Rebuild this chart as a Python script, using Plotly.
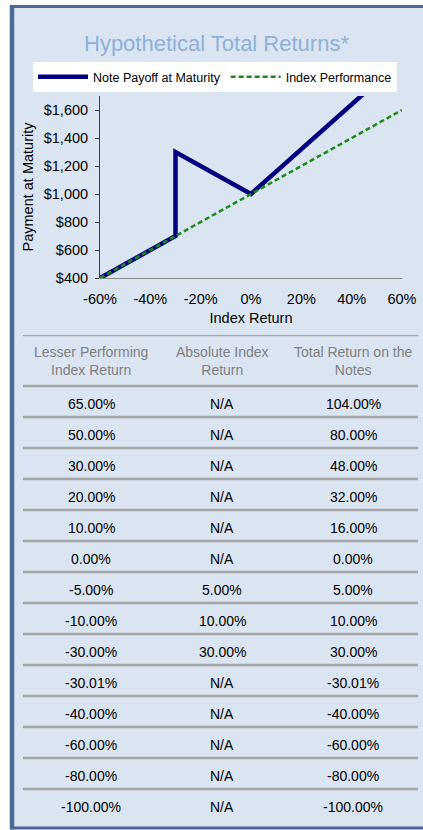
import plotly.graph_objects as go

# ---------------- data ----------------
index_x = [-0.60, 0.60]
index_y = [400, 1600]

note_x = [-0.60, -0.30, -0.30, 0.00, 0.65]
note_y = [400, 700, 1300, 1000, 2040]

x_ticks = [-0.6, -0.4, -0.2, 0.0, 0.2, 0.4, 0.6]
x_tick_labels = ["-60%", "-40%", "-20%", "0%", "20%", "40%", "60%"]
y_ticks = [400, 600, 800, 1000, 1200, 1400, 1600]
y_tick_labels = ["$400", "$600", "$800", "$1,000", "$1,200", "$1,400", "$1,600"]

header_col1 = "Lesser Performing<br>Index Return"
header_col2 = "Absolute Index<br>Return"
header_col3 = "Total Return on the<br>Notes"
headers = [header_col1, header_col2, header_col3]

lesser_return = ["65.00%", "50.00%", "30.00%", "20.00%", "10.00%", "0.00%", "-5.00%",
                 "-10.00%", "-30.00%", "-30.01%", "-40.00%", "-60.00%", "-80.00%", "-100.00%"]
absolute_return = ["N/A", "N/A", "N/A", "N/A", "N/A", "N/A", "5.00%",
                   "10.00%", "30.00%", "N/A", "N/A", "N/A", "N/A", "N/A"]
total_return = ["104.00%", "80.00%", "48.00%", "32.00%", "16.00%", "0.00%", "5.00%",
                "10.00%", "30.00%", "-30.01%", "-40.00%", "-60.00%", "-80.00%", "-100.00%"]

# ---------------- geometry helpers (page pixels -> figure fractions) ----------------
W, H = 423, 830


def fx(p):
    return p / W


def fy(p):
    return 1 - p / H


FONT = "Liberation Sans, Arial, sans-serif"
PANEL_BG = "#dbe5f1"
BORDER = "#4a6b96"
NAVY = "#000080"
GREEN = "#1a8a1a"
GRID_LINE = "#a5a5a5"

fig = go.Figure()

fig.add_trace(go.Scatter(
    x=note_x, y=note_y, mode="lines", name="Note Payoff at Maturity",
    line=dict(color=NAVY, width=4.5), xaxis="x", yaxis="y"))
fig.add_trace(go.Scatter(
    x=index_x, y=index_y, mode="lines", name="Index Performance",
    line=dict(color=GREEN, width=2.5, dash="5px,3px"), xaxis="x", yaxis="y"))

# ---------------- table via annotations on a hidden axis pair ----------------
ROW_PX = 31
HEADER_TOP = -0.5 - 51 / ROW_PX
annotations = []
for c, h in enumerate(headers):
    annotations.append(dict(
        x=c, y=(HEADER_TOP - 0.5) / 2, xref="x2", yref="y2", text=h, showarrow=False,
        font=dict(family=FONT, size=14, color="#7f7f7f"), align="center"))
columns = [lesser_return, absolute_return, total_return]
for c, col in enumerate(columns):
    for r, v in enumerate(col):
        annotations.append(dict(
            x=c, y=r, xref="x2", yref="y2", text=v, showarrow=False, yshift=-2,
            font=dict(family=FONT, size=14, color="#000000")))

shapes = [
    # panel background
    dict(type="rect", xref="paper", yref="paper", x0=fx(12), x1=1,
         y0=fy(828), y1=fy(6.5), fillcolor=PANEL_BG, line=dict(width=0), layer="below"),
    # panel border: top, bottom, left
    dict(type="line", xref="paper", yref="paper", x0=fx(11), x1=1,
         y0=fy(6.5), y1=fy(6.5), line=dict(color=BORDER, width=3), layer="below"),
    dict(type="line", xref="paper", yref="paper", x0=fx(11), x1=1,
         y0=fy(828), y1=fy(828), line=dict(color=BORDER, width=3), layer="below"),
    dict(type="line", xref="paper", yref="paper", x0=fx(12), x1=fx(12),
         y0=fy(829.5), y1=fy(5), line=dict(color=BORDER, width=4.5), layer="below"),
]
sep_lines = [HEADER_TOP] + [k - 0.5 for k in range(len(lesser_return))]
COL0, COLW = 91, 131
for yv in sep_lines:
    shapes.append(dict(type="line", xref="x2", yref="y2",
                       x0=(23 - COL0) / COLW, x1=(418 - COL0) / COLW, y0=yv, y1=yv,
                       line=dict(color=GRID_LINE, width=2.5), layer="below"))

# title
annotations.append(dict(
    x=fx(217), y=fy(43), xref="paper", yref="paper", text="Hypothetical Total Returns*",
    showarrow=False, font=dict(family=FONT, size=22, color="#8eb0da"),
    xanchor="center", yanchor="middle"))

fig.update_layout(
    width=W, height=H, margin=dict(l=0, r=0, t=0, b=0, autoexpand=False),
    paper_bgcolor="white", plot_bgcolor="rgba(0,0,0,0)",
    font=dict(family=FONT, size=14, color="#000000"),
    showlegend=True,
    legend=dict(orientation="h", x=fx(215), xanchor="center", y=fy(62), yanchor="top",
                bgcolor="white", font=dict(family=FONT, size=12.5, color="#000000"),
                itemwidth=50, tracegroupgap=0, borderwidth=0,
                itemclick=False, itemdoubleclick=False),
    xaxis=dict(domain=[fx(100), fx(402)], range=[-0.6, 0.6], tickvals=x_ticks,
               ticktext=x_tick_labels, showgrid=False, zeroline=False, automargin=False,
               showline=True, linecolor="#8c8c8c", linewidth=1, ticks="",
               ticklabelstandoff=8, tickfont=dict(size=14.5),
               title=dict(text="Index Return", font=dict(size=14.5), standoff=6),
               anchor="y", fixedrange=True),
    yaxis=dict(domain=[fy(278), fy(96)], range=[400, 1700], tickvals=y_ticks,
               ticktext=y_tick_labels, showgrid=False, zeroline=False, automargin=False,
               showline=True, linecolor="#404040", linewidth=1, ticks="outside",
               ticklen=4, tickcolor="#404040", tickfont=dict(size=14.5),
               ticklabelstandoff=4,
               title=dict(text="Payment at Maturity", font=dict(size=14.5), standoff=6),
               anchor="x", fixedrange=True),
    xaxis2=dict(domain=[0, 1], range=[-COL0 / COLW, (W - COL0) / COLW],
                visible=False, automargin=False, anchor="y2", fixedrange=True),
    yaxis2=dict(domain=[0, fy(335)],
                range=[(H - 401.5) / ROW_PX, HEADER_TOP],
                visible=False, automargin=False, anchor="x2", fixedrange=True),
    annotations=annotations,
    shapes=shapes,
)

# remove the default page margin/scrollbars so the 423x830 figure fills the window exactly
fig.write_html("out.html", config={"displayModeBar": False},
               post_script="document.body.style.margin='0';"
                           "document.body.style.overflow='hidden';")
